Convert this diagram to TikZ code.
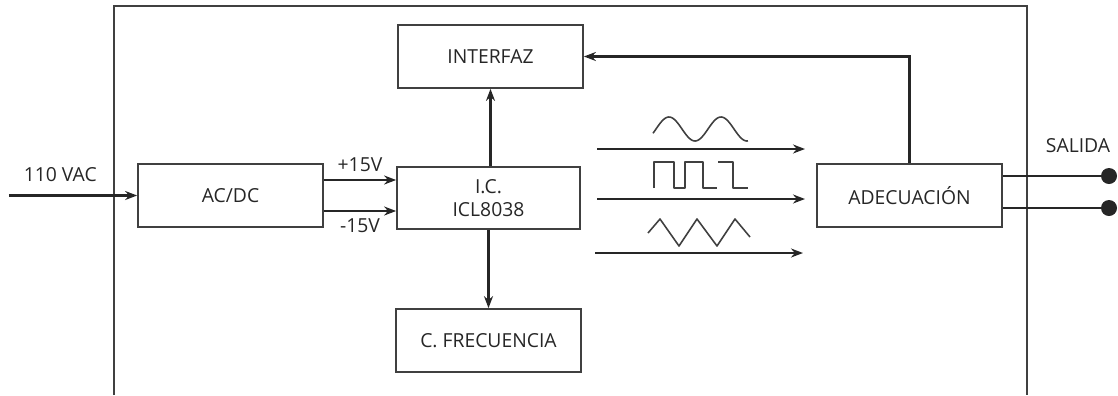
\documentclass[tikz,border=0pt]{standalone}
\usepackage{fontspec}
\setmainfont{Open Sans}
\usepackage{xcolor}
\usepackage{tikz}
\usetikzlibrary{arrows.meta, positioning}

\begin{document}
\begin{tikzpicture}[
    font=\fontsize{11}{13}\selectfont,
    every node/.style={text=black!85},
    blk/.style={draw=black!75, line width=1pt, minimum height=1.26cm, minimum width=3.7cm,
                align=center, inner sep=2pt},
    arr/.style={-{Stealth[length=2.4mm, width=1.8mm]}, line width=1.3pt, draw=black!85},
    wire/.style={line width=1.2pt, draw=black!85},
    wave/.style={line width=0.9pt, draw=black!75, line join=round},
    frame/.style={line width=1pt, draw=black!75},
    dot/.style={circle, fill=black!85, inner sep=0pt, minimum size=3.2mm},
    elab/.style={inner sep=2pt}
]
\useasboundingbox (0,0) rectangle (22.36,-7.9);

% enclosure (open at the bottom)
\draw[frame] (2.28,-7.9) |- (20.54,-0.12) -- (20.54,-7.9);

\node[blk]  (acdc)     at (4.61, -3.91) {AC/DC};
\node[blk, minimum width=3.66cm, minimum height=1.24cm]
            (ic)       at (9.77, -3.96) {I.C.\\ICL8038};
\node[blk]  (interfaz) at (9.81, -1.13) {INTERFAZ};
\node[blk]  (frec)     at (9.77, -6.81) {C. FRECUENCIA};
\node[blk]  (adec)     at (18.19, -3.91) {ADECUACIÓN};

\coordinate (vac) at (0.18, -3.91);
\node[dot] (out1) at (22.18, -3.52) {};
\node[dot] (out2) at (22.18, -4.16) {};
\node[elab] (salida) at (21.56, -2.92) {SALIDA};

% 110 VAC --> AC/DC
\draw[arr] (vac) -- node[pos=0.4, above=5pt, elab]{110 VAC} (acdc.west);

% AC/DC --> I.C.
\draw[arr] ([yshift=3.1mm]acdc.east) -- node[above=2pt, elab]{+15V}
    ([yshift=3.1mm]acdc.east -| ic.west);
\draw[arr] ([yshift=-3.1mm]acdc.east) -- node[below=2pt, elab]{-15V}
    ([yshift=-3.1mm]acdc.east -| ic.west);

% I.C. --> Interfaz / C. Frecuencia
\draw[arr] (ic.north -| interfaz.south) -- (interfaz.south);
\draw[arr] (ic.south) -- (frec.north);

% I.C. --> Adecuacion (three waveforms)
\coordinate (s1) at (11.94, -2.98);  \coordinate (e1) at (16.10, -2.98);
\coordinate (s2) at (11.94, -3.98);  \coordinate (e2) at (16.10, -3.98);
\coordinate (s3) at (11.90, -5.06);  \coordinate (e3) at (16.06, -5.06);
\draw[arr] (s1) -- (e1);
\draw[arr] (s2) -- (e2);
\draw[arr] (s3) -- (e3);

% sine
\draw[wave] plot[domain=13.06:14.96, samples=80, smooth]
    (\x, {-2.58+0.24*sin(360*(\x-13.12)/1.04)});
% square
\draw[wave] (13.08,-3.76) |- (13.48,-3.24) |- (13.70,-3.76) |- (14.06,-3.24)
    |- (14.34,-3.76);
\draw[wave] (14.36,-3.24) -| (14.66,-3.76) -- (14.96,-3.76);
% triangle
\draw[wave] (12.96,-4.66) -- (13.20,-4.38) -- (13.58,-4.92) -- (13.94,-4.38)
    -- (14.34,-4.92) -- (14.70,-4.38) -- (15.00,-4.74);

% Adecuacion --> Interfaz
\draw[arr] (adec.north) |- (interfaz.east);

% Adecuacion --> Salida
\draw[wire] (adec.east |- out1) -- (out1);
\draw[wire] (adec.east |- out2) -- (out2);

\end{tikzpicture}
\end{document}
